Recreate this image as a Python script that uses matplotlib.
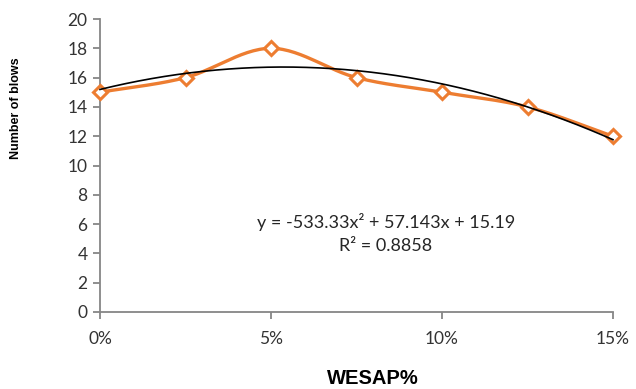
import numpy as np
import matplotlib
matplotlib.use("Agg")
import matplotlib.pyplot as plt
from matplotlib.ticker import FuncFormatter, MultipleLocator

# Data
wesap = [0.0, 0.025, 0.05, 0.075, 0.10, 0.125, 0.15]
blows = [15, 16, 18, 16, 15, 14, 12]
eq_text = "y = -533.33x² + 57.143x + 15.19"
r2_text = "R² = 0.8858"

ORANGE = "#ED7D31"
GRAY = "#868686"

def catmull_rom(x, y, n=30):
    x = np.asarray(x, float); y = np.asarray(y, float)
    px = np.concatenate([[2*x[0]-x[1]], x, [2*x[-1]-x[-2]]])
    py = np.concatenate([[2*y[0]-y[1]], y, [2*y[-1]-y[-2]]])
    xs, ys = [], []
    t = np.linspace(0, 1, n)
    for i in range(1, len(px)-2):
        p0, p1, p2, p3 = [np.array([px[j], py[j]]) for j in (i-1, i, i+1, i+2)]
        for tt in t:
            pt = 0.5*((2*p1) + (-p0+p2)*tt + (2*p0-5*p1+4*p2-p3)*tt**2 + (-p0+3*p1-3*p2+p3)*tt**3)
            xs.append(pt[0]); ys.append(pt[1])
    return np.array(xs), np.array(ys)

fig = plt.figure(figsize=(6.36, 3.89), dpi=100)
ax = fig.add_axes([100/636, 1-312/389, (613-100)/636, (312-19)/389])

sx, sy = catmull_rom(wesap, blows)
ax.plot(sx, sy, color=ORANGE, lw=2.4, solid_capstyle="round", zorder=2)
ax.plot(wesap, blows, linestyle="none", marker="D", markersize=7.5,
        markerfacecolor="white", markeredgecolor=ORANGE, markeredgewidth=2.2, zorder=3)

coef = np.polyfit(wesap, blows, 2)
tx = np.linspace(wesap[0], wesap[-1], 200)
ax.plot(tx, np.polyval(coef, tx), color="black", lw=1.2, zorder=4)

ax.set_xlim(0, 0.15)
ax.set_ylim(0, 20)
ax.xaxis.set_major_locator(MultipleLocator(0.05))
ax.yaxis.set_major_locator(MultipleLocator(2))
ax.xaxis.set_major_formatter(FuncFormatter(lambda v, p: f"{v*100:.0f}%"))

for s in ["top", "right"]:
    ax.spines[s].set_visible(False)
for s in ["left", "bottom"]:
    ax.spines[s].set_color(GRAY)
    ax.spines[s].set_linewidth(1.3)
ax.tick_params(axis="both", direction="out", color=GRAY, width=1.3, length=5,
               labelsize=12.5, labelcolor="#333333")
ax.tick_params(axis="x", pad=9)
ax.tick_params(axis="y", pad=4)
for lab in ax.get_xticklabels() + ax.get_yticklabels():
    lab.set_fontfamily("Lato")
for l in ax.lines:
    l.set_clip_on(False)

fig.text(386/636, 1-222/389, eq_text, ha="center", va="center", fontsize=13,
         family="Lato", color="#262626")
fig.text(386/636, 1-246/389, r2_text, ha="center", va="center", fontsize=13,
         family="Lato", color="#262626")

fig.text(16/636, 1-108/389, "Number of blows", rotation=90, ha="center", va="center",
         fontsize=9, fontweight="bold", family="Liberation Sans", color="black")
fig.text(373/636, 1-379/389, "WESAP%", ha="center", va="center",
         fontsize=14.5, fontweight="bold", family="Liberation Sans", color="black")

fig.savefig("out.png", dpi=100)
